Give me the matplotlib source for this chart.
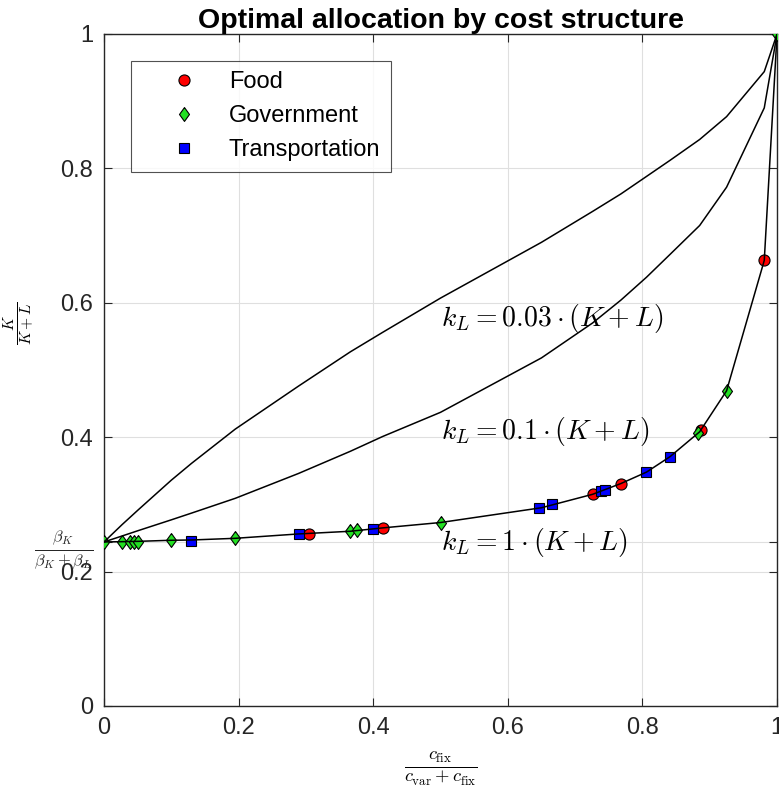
import numpy as np
import matplotlib
matplotlib.use("Agg")
import matplotlib.pyplot as plt

plt.rcParams['font.family'] = ['Liberation Sans', 'DejaVu Sans']
plt.rcParams['mathtext.fontset'] = 'cm'

# sector points (share of fixed cost, capital share)
food_x = [0.305, 0.414, 0.726, 0.768, 0.887, 0.981]
food_y = [0.256, 0.265, 0.315, 0.331, 0.410, 0.663]

gov_x = [0.0, 0.027, 0.039, 0.045, 0.051, 0.0996, 0.195, 0.366, 0.376, 0.501, 0.883, 0.925, 1.0]
gov_y = [0.2441, 0.2445, 0.2445, 0.2445, 0.2445, 0.2466, 0.2495, 0.261, 0.262, 0.273, 0.406, 0.469, 1.0]

trans_x = [0.130, 0.289, 0.400, 0.647, 0.666, 0.739, 0.745, 0.806, 0.841]
trans_y = [0.246, 0.256, 0.263, 0.295, 0.300, 0.320, 0.321, 0.348, 0.371]

# curves for the three k_L levels
curve_x = [0, 0.027, 0.051, 0.1, 0.13, 0.195, 0.289, 0.366, 0.414, 0.5, 0.65,
           0.726, 0.768, 0.806, 0.841, 0.885, 0.925, 0.981, 1.0]
curve_k1 = [0.2441, 0.2445, 0.245, 0.2466, 0.247, 0.2495, 0.256, 0.260, 0.265, 0.273, 0.295,
            0.315, 0.331, 0.348, 0.371, 0.408, 0.469, 0.663, 1.0]
curve_k01 = [0.2441, 0.253, 0.261, 0.277, 0.287, 0.309, 0.346, 0.379, 0.401, 0.437, 0.518,
             0.570, 0.604, 0.638, 0.672, 0.715, 0.772, 0.890, 1.0]
curve_k003 = [0.2441, 0.270, 0.292, 0.336, 0.361, 0.412, 0.476, 0.527, 0.556, 0.607, 0.690,
              0.736, 0.762, 0.788, 0.812, 0.843, 0.877, 0.944, 1.0]

beta_share = 0.2441
yticks = [0, 0.2, beta_share, 0.4, 0.6, 0.8, 1]
yticklabels = ['0', '0.2', r'$\frac{\beta_K}{\beta_K+\beta_L}$', '0.4', '0.6', '0.8', '1']
xticks = [0, 0.2, 0.4, 0.6, 0.8, 1]
xticklabels = ['0', '0.2', '0.4', '0.6', '0.8', '1']

fig = plt.figure(figsize=(7.79, 7.96), dpi=100)
ax = fig.add_axes([0.1335, 0.1131, 0.864, 0.8442])

diamond = [(0, 1), (0.72, 0), (0, -1), (-0.72, 0), (0, 1)]

ax.plot(food_x, food_y, 'o', color='red', mec='black', mew=0.8, ms=8, label='Food', zorder=3)
ax.plot(gov_x, gov_y, marker=diamond, ls='none', color='#22e022', mec='black', mew=0.8, ms=10,
        label='Government', zorder=3)
ax.plot(trans_x, trans_y, 's', color='blue', mec='black', mew=0.8, ms=7, label='Transportation', zorder=3)

for cy in [curve_k003, curve_k01, curve_k1]:
    ax.plot(curve_x, cy, color='black', lw=1.1, zorder=4)

ax.text(0.50, 0.577, r'$k_L = 0.03\cdot(K+L)$', fontsize=20, va='center', ha='left')
ax.text(0.50, 0.408, r'$k_L = 0.1\cdot(K+L)$', fontsize=20, va='center', ha='left')
ax.text(0.50, 0.243, r'$k_L = 1\cdot(K+L)$', fontsize=20, va='center', ha='left')

ax.set_xlim(0, 1)
ax.set_ylim(0, 1)
ax.set_xticks(xticks)
ax.set_xticklabels(xticklabels)
ax.set_yticks(yticks)
ax.set_yticklabels(yticklabels)
ax.tick_params(direction='in', top=True, right=True, length=6, labelsize=17, colors='#262626')
ax.tick_params(axis='y', pad=8)
ax.tick_params(axis='x', pad=8)
ax.grid(True, color='#dfdfdf', lw=0.8)
ax.set_axisbelow(True)
for s in ax.spines.values():
    s.set_color('#262626')
    s.set_linewidth(1.0)

ax.set_xlabel(r'$\frac{c_{\rm fix}}{c_{\rm var}+c_{\rm fix}}$', fontsize=19, labelpad=8)
ax.set_ylabel(r'$\frac{K}{K+L}$', fontsize=16)
ax.yaxis.set_label_coords(-0.1, 0.57)
ax.set_title('Optimal allocation by cost structure', fontsize=20.5, fontweight='bold', pad=4)

leg = ax.legend(loc='upper left', bbox_to_anchor=(0.04, 0.960), fontsize=17, frameon=True,
                fancybox=False, edgecolor='#262626', handlelength=3.6, handletextpad=0.1,
                borderpad=0.45, labelspacing=0.5, borderaxespad=0)
leg.get_frame().set_linewidth(0.8)

fig.savefig('out.png', dpi=100)
